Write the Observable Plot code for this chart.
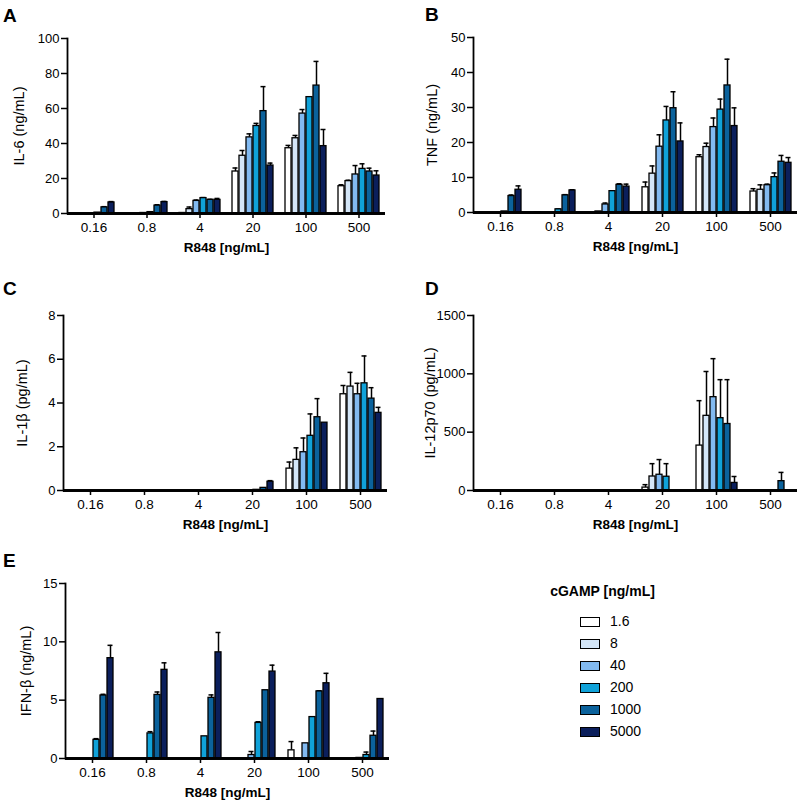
<!DOCTYPE html>
<html>
<head>
<meta charset="utf-8">
<script src="https://cdn.jsdelivr.net/npm/d3@7"></script>
<script src="https://cdn.jsdelivr.net/npm/@observablehq/plot@0.6"></script>
<style>
  body { margin: 0; background: #fff; font-family: "Liberation Sans", Arial, sans-serif; color: #000; }
  #page { position: relative; width: 800px; height: 802px; overflow: hidden; }
  .panel { position: absolute; }
  .letter { position: absolute; font-weight: bold; font-size: 19px; line-height: 19px; }
  #legend { position: absolute; left: 520px; top: 583px; width: 170px; }
  #legend .ttl { font-weight: bold; font-size: 14px; text-align: center; width: 165px; }
  #legend .row { position: relative; height: 22px; }
  #legend .sw { position: absolute; left: 60px; top: 7px; width: 18px; height: 8px; border: 1.5px solid #000; }
  #legend .lb { position: absolute; left: 90px; top: 2px; font-size: 14px; line-height: 18px; }
  g[aria-label="fx-axis label"] text, g[aria-label="fx-axis label"] { font-weight: bold; font-size: 13.5px; }
  g[aria-label="y-axis tick"], g[aria-label="fx-axis tick"] { stroke-width: 1.5px; }
  g[aria-label="fx-axis tick label"] text { font-size: 13.5px; }
  g[aria-label="y-axis label"] text { font-size: 14.5px; }
</style>
</head>
<body>
<div id="page"></div>
<script>
// ---- categories ----
const doses = ["0.16", "0.8", "4", "20", "100", "500"];          // R848 [ng/mL]
const cgamp = ["1.6", "8", "40", "200", "1000", "5000"];          // cGAMP [ng/mL]
const cgampColors = ["#ffffff", "#d4e6f8", "#82baf1", "#10a2d9", "#0b629c", "#0b1f5c"];

// ---- values: one row per R848 dose, one entry per cGAMP dose ----
const il6Mean = [
  [0, 0, 0, 0.5, 3.5, 6.3],
  [0, 0, 0.3, 0.8, 4.5, 6.5],
  [0.3, 2.5, 7.2, 8.8, 7.8, 7.8],
  [24, 33, 43.5, 50, 58.5, 27.4],
  [37.3, 43, 57.1, 66.5, 73.1, 38.5],
  [15.6, 18.5, 22.3, 25.5, 24, 21.7]
];
const il6Err = [
  [0, 0, 0, 0, 0.4, 0.5],
  [0, 0, 0, 0, 0.5, 0.4],
  [0, 1.2, 0.5, 0.3, 0.3, 0.8],
  [2, 3, 2, 1.5, 14, 1.4],
  [1.6, 1.6, 2.3, 0.2, 13.8, 9.5],
  [0.8, 0.5, 5.1, 2.9, 1.9, 2.7]
];
const tnfMean = [
  [0, 0, 0, 0.3, 4.7, 6.5],
  [0.1, 0, 0, 0.9, 4.9, 6.3],
  [0, 0.3, 2.3, 6.1, 7.9, 7.4],
  [7.2, 11.1, 18.8, 26.3, 29.8, 20.3],
  [15.8, 18.7, 24.4, 29.4, 36.3, 24.7],
  [6.0, 6.5, 7.8, 10.1, 14.5, 14.2]
];
const tnfErr = [
  [0, 0, 0, 0, 0.3, 1.1],
  [0, 0, 0, 0.1, 0.2, 0.2],
  [0, 0, 0.4, 0.1, 0.3, 0.7],
  [1.5, 2.2, 3.4, 4.0, 4.7, 5.3],
  [0.7, 1.1, 2.6, 3.0, 7.5, 5.2],
  [0.8, 1.4, 0.3, 1.2, 1.8, 1.5]
];
const il1bMean = [
  [0, 0, 0, 0, 0, 0],
  [0, 0, 0, 0, 0, 0],
  [0, 0, 0, 0, 0, 0],
  [0, 0, 0, 0.03, 0.12, 0.4],
  [1.0, 1.4, 1.75, 2.5, 3.35, 3.1],
  [4.4, 4.75, 4.4, 4.9, 4.2, 3.55]
];
const il1bErr = [
  [0, 0, 0, 0, 0, 0],
  [0, 0, 0, 0, 0, 0],
  [0, 0, 0, 0, 0, 0],
  [0, 0, 0, 0, 0, 0.05],
  [0.3, 0.55, 0.65, 1.0, 0.85, 0],
  [0.4, 0.65, 0.5, 1.25, 0.5, 0.25]
];
const il12Mean = [
  [0, 0, 0, 0, 0, 0],
  [0, 0, 0, 0, 0, 0],
  [0, 0, 0, 0, 0, 0],
  [25, 120, 135, 118, 0, 0],
  [385, 640, 800, 620, 570, 65],
  [0, 0, 0, 0, 80, 0]
];
const il12Err = [
  [0, 0, 0, 0, 0, 0],
  [0, 0, 0, 0, 0, 0],
  [0, 0, 0, 0, 0, 0],
  [25, 110, 130, 112, 0, 0],
  [385, 380, 330, 330, 380, 55],
  [0, 0, 0, 0, 75, 0]
];
const ifnbMean = [
  [0, 0, 0, 1.6, 5.4, 8.6],
  [0, 0, 0, 2.15, 5.45, 7.6],
  [0, 0, 0, 1.9, 5.2, 9.1],
  [0, 0, 0.3, 3.05, 5.85, 7.45],
  [0.7, 0, 1.3, 3.55, 5.75, 6.45],
  [0, 0, 0.05, 0.3, 1.95, 5.1]
];
const ifnbErr = [
  [0, 0, 0, 0.1, 0.1, 1.1],
  [0, 0, 0, 0.15, 0.25, 0.6],
  [0, 0, 0, 0, 0.25, 1.7],
  [0, 0, 0.3, 0.1, 0, 0.55],
  [0.75, 0, 0, 0, 0.05, 0.85],
  [0, 0, 0, 0.25, 0.4, 0]
];

// ---- axis ticks ----
const il6Ticks = [0, 20, 40, 60, 80, 100];
const tnfTicks = [0, 10, 20, 30, 40, 50];
const il1bTicks = [0, 2, 4, 6, 8];
const il12Ticks = [0, 500, 1000, 1500];
const ifnbTicks = [0, 5, 10, 15];

function toRows(mean, err) {
  const out = [];
  doses.forEach((d, i) => cgamp.forEach((c, j) => {
    out.push({dose: d, cgamp: c, value: mean[i][j], err: err[i][j]});
  }));
  return out;
}

const page = document.getElementById("page");

function panel(cfg) {
  const all = toRows(cfg.mean, cfg.err);
  const data = all.filter(d => d.value > 0);
  const withErr = data.filter(d => d.err > 0);
  const chart = Plot.plot({
    width: cfg.width, height: cfg.height,
    marginLeft: cfg.ml, marginRight: cfg.mr, marginTop: cfg.mt, marginBottom: cfg.mb,
    style: {fontFamily: "'Liberation Sans', Arial, sans-serif", fontSize: "13px", color: "#000", background: "transparent", overflow: "visible"},
    fx: {domain: doses, padding: 0, axis: "bottom", tickSize: 5, tickPadding: 4,
         label: "R848 [ng/mL]", labelAnchor: "center", labelOffset: 38},
    x: {domain: cgamp, axis: null, paddingInner: 0.2, paddingOuter: 0.6},
    y: {domain: [0, cfg.yMax], ticks: cfg.ticks, tickSize: 6, tickPadding: 2, tickFormat: d => String(d),
        label: cfg.label, labelAnchor: "center", labelOffset: cfg.lo, labelArrow: "none"},
    color: {domain: cgamp, range: cgampColors},
    marks: [
      Plot.ruleX(withErr, {fx: "dose", x: "cgamp", y1: "value", y2: d => d.value + d.err, stroke: "#000", strokeWidth: 1.5}),
      Plot.tickY(withErr, {fx: "dose", x: "cgamp", y: d => d.value + d.err, stroke: "#000", strokeWidth: 1.5, insetLeft: 0.5, insetRight: 0.5}),
      Plot.barY(data, {fx: "dose", x: "cgamp", y: "value", fill: "cgamp", stroke: "#000", strokeWidth: 1.3}),
      Plot.ruleY(all, {fx: "dose", y: () => 0, stroke: "#000", strokeWidth: 1.8}),
      Plot.frame({anchor: "left", facetAnchor: "left", stroke: "#000", strokeWidth: 1.8})
    ]
  });
  const wrap = document.createElement("div");
  wrap.className = "panel";
  wrap.style.left = cfg.left + "px";
  wrap.style.top = cfg.top + "px";
  wrap.appendChild(chart);
  page.appendChild(wrap);
  const letter = document.createElement("div");
  letter.className = "letter";
  letter.textContent = cfg.letter;
  letter.style.left = cfg.lx + "px";
  letter.style.top = cfg.ly + "px";
  page.appendChild(letter);
}

panel({letter: "A", lx: 3, ly: 6, mean: il6Mean, err: il6Err, yMax: 100, ticks: il6Ticks, label: "IL-6 (ng/mL)",
  left: 0, top: 0, width: 400, height: 265, ml: 65, mr: 13, mt: 38, mb: 52, lo: 54});
panel({letter: "B", lx: 425, ly: 5, mean: tnfMean, err: tnfErr, yMax: 50, ticks: tnfTicks, label: "TNF (ng/mL)",
  left: 400, top: 0, width: 400, height: 265, ml: 73, mr: 3, mt: 37, mb: 53, lo: 47});
panel({letter: "C", lx: 3, ly: 279, mean: il1bMean, err: il1bErr, yMax: 8, ticks: il1bTicks, label: "IL-1\u03B2 (pg/mL)",
  left: 0, top: 280, width: 400, height: 265, ml: 63, mr: 13, mt: 35, mb: 55, lo: 47});
panel({letter: "D", lx: 425, ly: 279, mean: il12Mean, err: il12Err, yMax: 1500, ticks: il12Ticks, label: "IL-12p70 (pg/mL)",
  left: 400, top: 280, width: 400, height: 265, ml: 73, mr: 3, mt: 35, mb: 55, lo: 49});
panel({letter: "E", lx: 3, ly: 551, mean: ifnbMean, err: ifnbErr, yMax: 15, ticks: ifnbTicks, label: "IFN-\u03B2 (ng/mL)",
  left: 0, top: 560, width: 400, height: 242, ml: 64, mr: 10, mt: 23, mb: 44, lo: 45});

// ---- legend ----
const legend = document.createElement("div");
legend.id = "legend";
const ttl = document.createElement("div");
ttl.className = "ttl";
ttl.textContent = "cGAMP [ng/mL]";
ttl.style.marginBottom = "11px";
legend.appendChild(ttl);
cgamp.forEach((c, i) => {
  const row = document.createElement("div");
  row.className = "row";
  const sw = document.createElement("div");
  sw.className = "sw";
  sw.style.background = cgampColors[i];
  const lb = document.createElement("div");
  lb.className = "lb";
  lb.textContent = c;
  row.appendChild(sw);
  row.appendChild(lb);
  legend.appendChild(row);
});
page.appendChild(legend);
</script>
</body>
</html>
